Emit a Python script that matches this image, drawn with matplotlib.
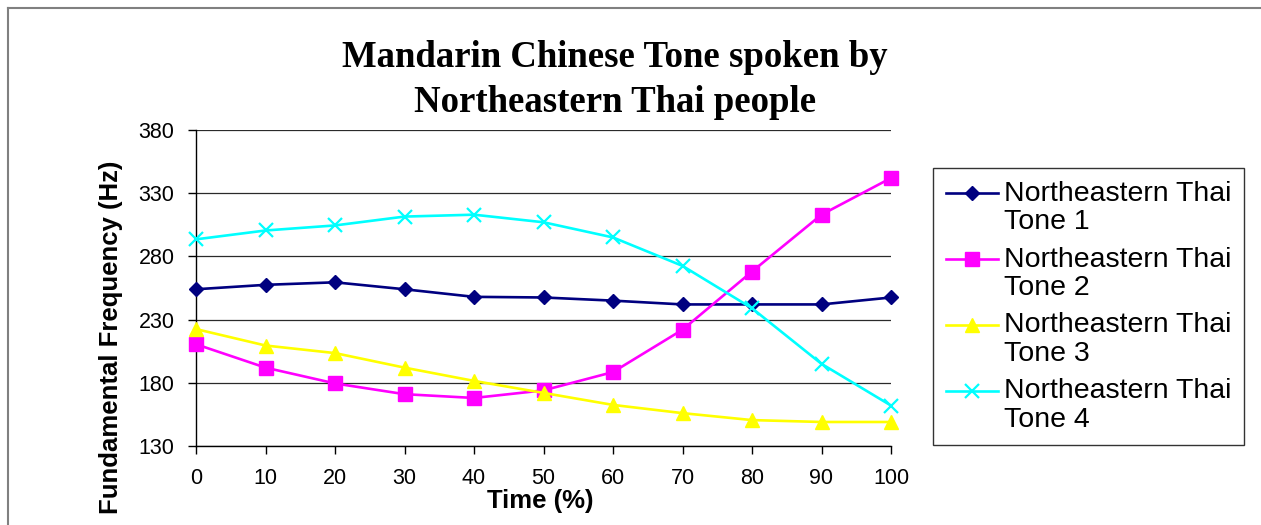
import matplotlib
matplotlib.use("Agg")
import numpy as np
import matplotlib.pyplot as plt
from matplotlib.lines import Line2D
from matplotlib.legend_handler import HandlerLine2D

# Normalised time points (% of syllable duration)
time_pct = [0, 10, 20, 30, 40, 50, 60, 70, 80, 90, 100]

# Mean F0 contours (Hz) for each tone
tone1 = [254, 257.5, 259.5, 254, 248, 247.5, 245, 242, 242, 242, 247.5]
tone2 = [210.5, 192, 179.5, 171, 168, 174, 188.5, 222, 268, 313, 342]
tone3 = [222.5, 209.5, 203.5, 192, 181.5, 172, 162.5, 156, 150.5, 149, 149]
tone4 = [293.5, 300.5, 304.5, 311.5, 313, 307, 295, 272.5, 239, 195, 162]

series_labels = [
    "Northeastern Thai\nTone 1",
    "Northeastern Thai\nTone 2",
    "Northeastern Thai\nTone 3",
    "Northeastern Thai\nTone 4",
]
y_ticks = [130, 180, 230, 280, 330, 380]
x_ticks = time_pct

SANS = ["Liberation Sans", "DejaVu Sans"]
SERIF = ["Liberation Serif", "DejaVu Serif"]
plt.rcParams["font.family"] = SANS


class FirstLineHandler(HandlerLine2D):
    """Legend handle drawn level with the first line of a two-line label."""

    def __init__(self, shift, **kw):
        super().__init__(**kw)
        self._shift = shift

    def create_artists(self, legend, orig_handle, xdescent, ydescent,
                       width, height, fontsize, trans):
        arts = super().create_artists(legend, orig_handle, xdescent, ydescent,
                                      width, height, fontsize, trans)
        for a in arts:
            if isinstance(a, Line2D):
                a.set_ydata(np.asarray(a.get_ydata(), float) + self._shift)
        return arts


W, H = 1261, 525
fig = plt.figure(figsize=(W / 100, H / 100), dpi=100)
fig.patch.set_facecolor("white")

ax = fig.add_axes([196 / W, 1 - 446 / H, (891 - 196) / W, (446 - 130) / H])

styles = [
    dict(color="#000080", marker="D", ms=7),
    dict(color="#FF00FF", marker="s", ms=10),
    dict(color="#FFFF00", marker="^", ms=10.5),
    dict(color="#00FFFF", marker="x", ms=9.5, mew=1.6),
]
for vals, lab, st in zip([tone1, tone2, tone3, tone4], series_labels, styles):
    ax.plot(time_pct, vals, lw=1.9, label=lab, clip_on=False, zorder=3, **st)

ax.set_xlim(0, 100)
ax.set_ylim(130, 380)
ax.set_xticks(x_ticks)
ax.set_yticks(y_ticks)
ax.set_axisbelow(True)
ax.grid(axis="y", color="#2a2a2a", lw=0.9)
ax.grid(axis="x", visible=False)
for side in ("top", "right"):
    ax.spines[side].set_visible(False)
for side in ("left", "bottom"):
    ax.spines[side].set_linewidth(1.0)
    ax.spines[side].set_color("black")
ax.tick_params(axis="both", direction="out", length=5.5, width=1.0,
               labelsize=15.5, color="black")
ax.tick_params(axis="y", pad=10)
ax.tick_params(axis="x", pad=10)

# Title, axis titles
fig.text(615 / W, 1 - 40 / H, "Mandarin Chinese Tone spoken by\nNortheastern Thai people",
         ha="center", va="top", fontsize=26.5, fontweight="bold",
         family=SERIF, linespacing=1.37)
fig.text(540 / W, 1 - 508 / H, "Time (%)", ha="center", va="baseline",
         fontsize=18.5, fontweight="bold")
fig.text(111 / W, 1 - 337 / H, "Fundamental Frequency (Hz)", ha="center",
         va="center", rotation=90, fontsize=18.5, fontweight="bold")

# Legend
handles, labels = ax.get_legend_handles_labels()
leg = fig.legend(handles, labels, loc="upper left",
                 bbox_to_anchor=(933 / W, 1 - 168 / H),
                 bbox_transform=fig.transFigure, borderaxespad=0,
                 fontsize=20.5, frameon=True, fancybox=False,
                 edgecolor="black", handlelength=1.85, handletextpad=0.2,
                 borderpad=0.45, labelspacing=0.4,
                 handler_map={Line2D: FirstLineHandler(shift=10.5)})
leg.get_frame().set_linewidth(1.0)
for t in leg.get_texts():
    t.set_linespacing(1.12)

# Chart-area border
fig.add_artist(Line2D([8 / W, 1], [1 - 8 / H, 1 - 8 / H], transform=fig.transFigure,
                      color="#808080", lw=1.5))
fig.add_artist(Line2D([8 / W, 8 / W], [0, 1 - 8 / H], transform=fig.transFigure,
                      color="#808080", lw=1.5))

fig.savefig("out.png", dpi=100, facecolor="white")
